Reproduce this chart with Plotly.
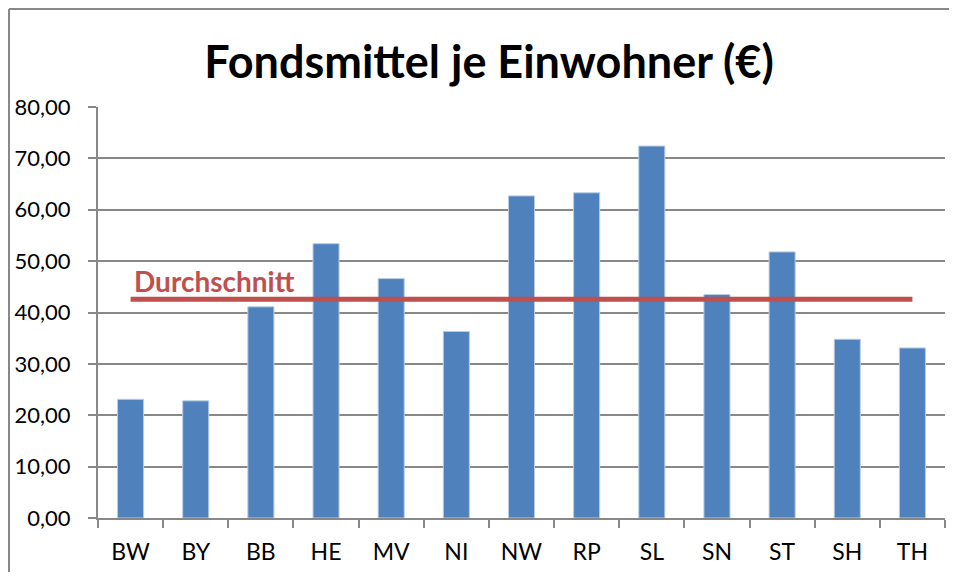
import plotly.graph_objects as go

categories = ["BW", "BY", "BB", "HE", "MV", "NI", "NW", "RP", "SL", "SN", "ST", "SH", "TH"]
values = [23.1, 22.8, 41.1, 53.4, 46.6, 36.3, 62.7, 63.3, 72.4, 43.5, 51.8, 34.8, 33.1]
average_value = 42.6
average_line = [average_value for _ in categories]
y_ticks = [0, 10, 20, 30, 40, 50, 60, 70, 80]

title_text = "Fondsmittel je Einwohner (€)"
avg_label = "Durchschnitt"

BAR = "#4F81BD"
RED = "#C0504D"
GRID = "#888888"
FONT = "Lato, Calibri, 'Open Sans', sans-serif"

W, H = 949, 564
ML, MR, MT, MB = 90, 12, 99, 54
PW, PH = W - ML - MR, H - MT - MB

fig = go.Figure()
fig.add_trace(go.Bar(
    x=categories, y=values,
    marker=dict(color=BAR, line=dict(color="#B9CDE5", width=1)),
    showlegend=False, hoverinfo="x+y",
))
fig.add_trace(go.Scatter(
    x=categories, y=average_line, mode="lines",
    line=dict(color=RED, width=5), showlegend=False,
))

top_y = (PH + MT - 1) / PH
left_x = (1 - ML) / PW

fig.update_layout(
    width=W, height=H,
    margin=dict(l=ML, r=MR, t=MT, b=MB, autoexpand=False),
    paper_bgcolor="white", plot_bgcolor="white",
    separators=",.",
    bargap=0.6,
    font=dict(family=FONT, color="#000000", size=22),
    title=dict(text="<b>" + title_text + "</b>", x=(489 - 8) / W, xanchor="center",
               xref="container", y=1 - 54 / H, yanchor="middle", yref="container",
               font=dict(family=FONT, size=45, color="#000000")),
    xaxis=dict(
        type="category", showgrid=False, showline=True, linecolor=GRID, linewidth=2,
        ticks="outside", tickson="boundaries", ticklen=8, tickcolor=GRID, tickwidth=2,
        tickfont=dict(size=23, family=FONT, color="#000000"), fixedrange=True,
        ticklabelstandoff=12, automargin=False,
    ),
    yaxis=dict(
        range=[0, 80], tickvals=y_ticks, tickformat=".2f",
        showgrid=True, gridcolor=GRID, gridwidth=2,
        showline=True, linecolor=GRID, linewidth=2,
        ticks="outside", ticklen=8, tickcolor=GRID, tickwidth=2,
        tickfont=dict(size=22, family=FONT, color="#000000"), zeroline=False, fixedrange=True,
        ticklabelstandoff=13, automargin=False,
    ),
    annotations=[dict(
        text="<b>" + avg_label + "</b>", xref="paper", x=(124 - ML) / PW, xanchor="left",
        yref="y", y=46.1, yanchor="middle", showarrow=False,
        font=dict(family=FONT, size=28, color=RED),
    )],
    shapes=[
        dict(type="line", xref="paper", yref="paper",
             x0=left_x, x1=(W + 10 - ML) / PW, y0=top_y, y1=top_y,
             line=dict(color="#888888", width=2), layer="below"),
        dict(type="line", xref="paper", yref="paper",
             x0=left_x, x1=left_x, y0=top_y, y1=-(MB + 10) / PH,
             line=dict(color="#888888", width=2), layer="below"),
    ],
)

fig.write_html("out.html", config={"displayModeBar": False})
